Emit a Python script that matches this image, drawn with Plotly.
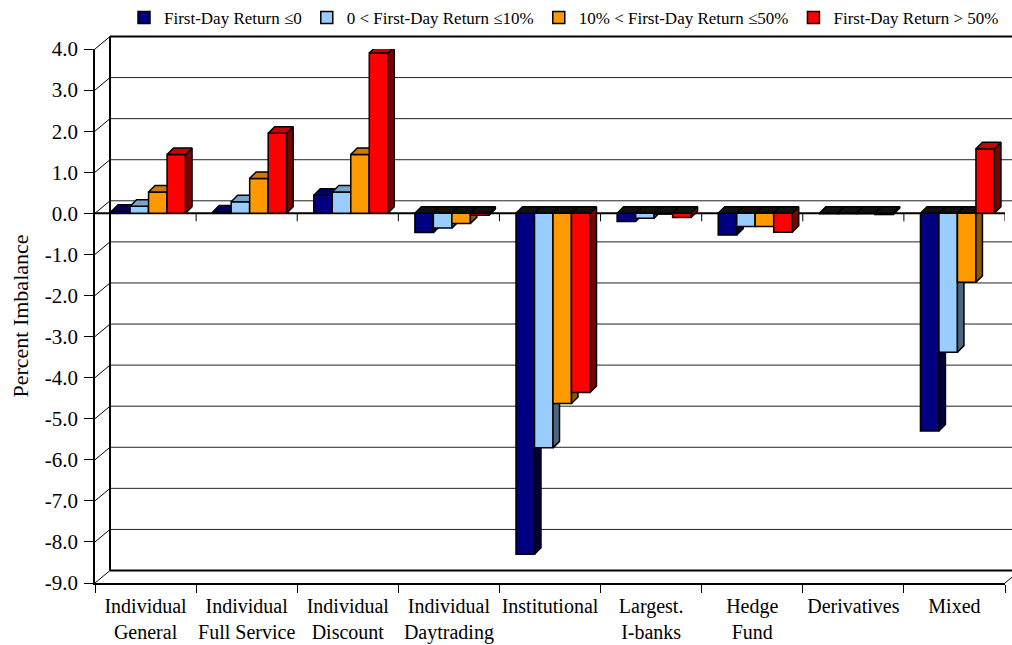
import plotly.graph_objects as go

# ---- data -------------------------------------------------------------
categories = ["Individual<br>General", "Individual<br>Full Service", "Individual<br>Discount",
              "Individual<br>Daytrading", "Institutional", "Largest.<br>I-banks",
              "Hedge<br>Fund", "Derivatives", "Mixed"]

series_names = ["First-Day Return ≤0", "0 < First-Day Return ≤10%",
                "10% < First-Day Return ≤50%", "First-Day Return > 50%"]

ret_le_0 = [0.05, 0.03, 0.44, -0.47, -8.30, -0.20, -0.53, -0.01, -5.30]
ret_0_10 = [0.17, 0.28, 0.52, -0.36, -5.71, -0.12, -0.32, -0.01, -3.38]
ret_10_50 = [0.52, 0.85, 1.43, -0.25, -4.63, -0.02, -0.32, -0.01, -1.68]
ret_gt_50 = [1.43, 1.95, 3.90, -0.05, -4.36, -0.10, -0.46, -0.03, 1.57]

y_ticks = list(range(-9, 5))

# ---- styling ----------------------------------------------------------
FONT = "Liberation Serif, Times New Roman, serif"
front_cols = ["#000080", "#99CCFF", "#FF9900", "#FF0000"]
top_cols = ["#000066", "#7AA3CC", "#CC7A00", "#C80000"]
side_cols = ["#000040", "#4D6680", "#8A5A00", "#800000"]
NEG_TOP = "#111111"

W, H = 1012, 645
L, R, T, B = 95, 1005, 49, 583          # front plane of the plot box (px)
X_RANGE = (-0.5, len(categories) - 0.5)
Y_RANGE = (-9, 4)
WALL_DX, WALL_DY = 15, 12.5             # back-wall depth offset (px)
BAR_DX, BAR_DY = 6.5, 6.5               # bar extrusion depth (px)

ux = (R - L) / (X_RANGE[1] - X_RANGE[0])   # px per category
uy = (B - T) / (Y_RANGE[1] - Y_RANGE[0])   # px per percent

bar_w = 18.5 / ux
first_off = -34 / ux
ddx, ddy = BAR_DX / ux, BAR_DY / uy


def px_y(v):
    return B - (v - Y_RANGE[0]) * uy


def pap_x(px):
    return (px - L) / (R - L)


def pap_y(py):
    return (B - py) / (B - T)


fig = go.Figure()

all_series = [ret_le_0, ret_0_10, ret_10_50, ret_gt_50]
for k, vals in enumerate(all_series):
    xa = "x" if k == 0 else f"x{k + 1}"
    ya = "y" if k == 0 else f"y{k + 1}"
    off = first_off + k * bar_w
    # front faces
    fig.add_trace(go.Bar(
        x=list(range(len(categories))), y=vals, name=series_names[k],
        width=bar_w, offset=off, xaxis=xa, yaxis=ya,
        marker=dict(color=front_cols[k], line=dict(color="black", width=1.5)),
        hoverinfo="skip"))
    # side and top faces of the extruded columns
    sx, sy, tpx, tpy, tnx, tny = [], [], [], [], [], []
    for i, v in enumerate(vals):
        xl = i + off
        xr = xl + bar_w
        lo, hi = min(v, 0), max(v, 0)
        sx += [xr, xr, xr + ddx, xr + ddx, xr, None]
        sy += [lo, hi, hi + ddy, lo + ddy, lo, None]
        px_ = [xl, xr, xr + ddx, xl + ddx, xl, None]
        py_ = [hi, hi, hi + ddy, hi + ddy, hi, None]
        if v >= 0:
            tpx += px_
            tpy += py_
        else:
            tnx += px_
            tny += py_
    for xs, ys, col in [(sx, sy, side_cols[k]), (tpx, tpy, top_cols[k]), (tnx, tny, NEG_TOP)]:
        if not xs:
            continue
        fig.add_trace(go.Scatter(
            x=xs, y=ys, mode="lines", fill="toself", fillcolor=col,
            line=dict(color="black", width=1.5), xaxis=xa, yaxis=ya,
            showlegend=False, hoverinfo="skip"))

# ---- box: back wall, side wall and floor --------------------------------
shapes = []
for v in y_ticks:
    fy = px_y(v)
    by = fy - WALL_DY
    edge = v in (Y_RANGE[0], Y_RANGE[1])
    # back-wall gridline
    shapes.append(dict(type="line", xref="paper", yref="paper", layer="below",
                       x0=pap_x(L + WALL_DX), x1=pap_x(W + 20), y0=pap_y(by), y1=pap_y(by),
                       line=dict(color="black" if edge else "#222222", width=2 if edge else 1)))
    # side-wall diagonal
    shapes.append(dict(type="line", xref="paper", yref="paper", layer="below",
                       x0=pap_x(L), x1=pap_x(L + WALL_DX), y0=pap_y(fy), y1=pap_y(by),
                       line=dict(color="black", width=1)))
# back-left vertical edge
shapes.append(dict(type="line", xref="paper", yref="paper", layer="below",
                   x0=pap_x(L + WALL_DX), x1=pap_x(L + WALL_DX),
                   y0=pap_y(px_y(Y_RANGE[1]) - WALL_DY), y1=pap_y(px_y(Y_RANGE[0]) - WALL_DY),
                   line=dict(color="black", width=2)))
# floor right diagonal
shapes.append(dict(type="line", xref="paper", yref="paper", layer="below",
                   x0=pap_x(R), x1=pap_x(R + WALL_DX), y0=pap_y(B), y1=pap_y(B - WALL_DY),
                   line=dict(color="black", width=1)))
# zero line with category separators hanging below it
shapes.append(dict(type="line", xref="x", yref="y", layer="below",
                   x0=X_RANGE[0], x1=X_RANGE[1], y0=0, y1=0,
                   line=dict(color="black", width=2)))
for i in range(len(categories)):
    b = i + 0.5
    shapes.append(dict(type="line", xref="x", yref="y", layer="below",
                       x0=b, x1=b, ysizemode="pixel", yanchor=0, y0=0, y1=-8,
                       line=dict(color="black", width=1)))

layout_axes = {}
for k in range(1, 4):
    layout_axes[f"xaxis{k + 1}"] = dict(overlaying="x", range=list(X_RANGE), visible=False,
                                        fixedrange=True)
    layout_axes[f"yaxis{k + 1}"] = dict(overlaying="y", range=list(Y_RANGE), visible=False,
                                        fixedrange=True)

fig.update_layout(
    width=W, height=H,
    margin=dict(l=L, r=W - R, t=T, b=H - B, pad=0, autoexpand=False),
    paper_bgcolor="white", plot_bgcolor="rgba(0,0,0,0)",
    font=dict(family=FONT, color="black", size=18),
    barmode="overlay",
    showlegend=True,
    legend=dict(orientation="h", x=pap_x(1004), y=pap_y(18), xanchor="right", yanchor="middle",
                font=dict(family=FONT, size=17, color="black"), bgcolor="rgba(0,0,0,0)",
                traceorder="normal"),
    xaxis=dict(range=list(X_RANGE), tickmode="array", tickvals=list(range(len(categories))),
               ticktext=categories, ticks="", showgrid=False, zeroline=False,
               showline=True, linecolor="black", linewidth=1.5,
               tickfont=dict(family=FONT, size=20), ticklabelstandoff=4,
               minor=dict(tickmode="array", tickvals=[i - 0.5 for i in range(len(categories) + 1)],
                          ticks="outside", ticklen=8, tickcolor="black", tickwidth=1,
                          showgrid=False),
               fixedrange=True),
    yaxis=dict(range=list(Y_RANGE), tickmode="array", tickvals=y_ticks,
               ticktext=[f"{v:.1f}" for v in y_ticks], ticks="outside", ticklen=9,
               tickcolor="black", tickwidth=1, showgrid=False, zeroline=False,
               showline=True, linecolor="black", linewidth=1.5,
               tickfont=dict(family=FONT, size=21), ticklabelstandoff=2,
               title=dict(text="Percent Imbalance", font=dict(family=FONT, size=22), standoff=10),
               fixedrange=True),
    shapes=shapes,
    **layout_axes,
)

fig.write_html("out.html")
